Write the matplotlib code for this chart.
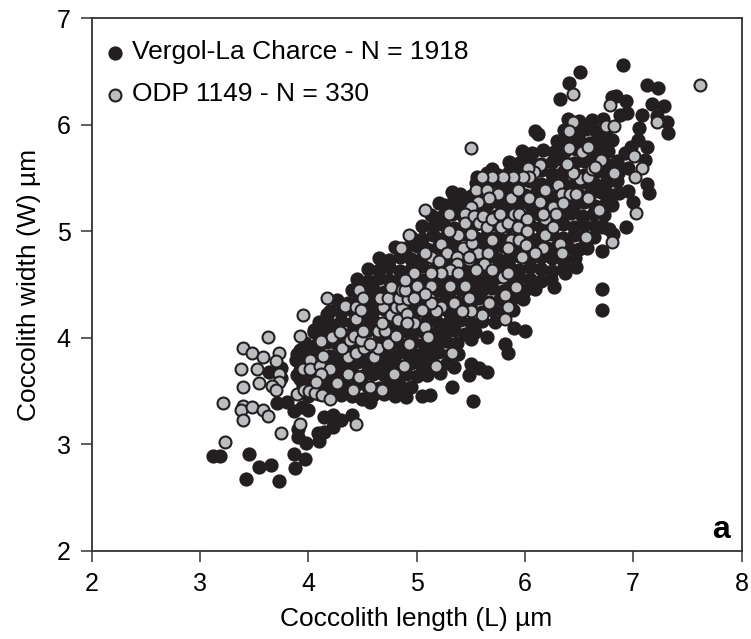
import matplotlib
matplotlib.use('Agg')
import matplotlib.pyplot as plt

plt.rcParams['font.family'] = ['Liberation Sans', 'DejaVu Sans']

# Values, one line per band of the cloud
vergol_length = [
    3.12, 3.19, 3.45, 3.55, 3.66, 3.43, 3.73, 3.87, 3.97, 3.88, 3.98, 3.91, 3.91, 4.10, 4.09, 4.15, 4.23, 4.30, 4.40,
    4.15, 4.23, 3.87, 4.00, 3.94, 3.71, 3.80, 4.57, 4.83, 4.05, 4.17, 3.92, 3.89, 3.64, 3.75, 3.75, 3.92, 3.92,
    6.91, 6.51, 6.41, 6.32, 7.13, 7.23, 7.17, 7.28, 6.84, 6.80, 6.93, 7.08, 6.94, 6.88, 7.31, 7.32, 7.22,
    7.05, 7.04, 7.13, 6.98, 6.92, 7.11, 6.95, 7.13, 7.15, 6.95, 7.00, 6.93, 6.78, 6.81, 6.71, 6.71, 6.71,
    6.47, 6.37, 6.27, 6.09, 6.12, 5.33, 5.35, 5.21, 5.56, 5.70, 6.00, 5.90, 5.82, 5.84, 5.50, 5.65,
    5.65, 5.58, 5.50, 5.48, 5.33, 5.35, 5.52,
    4.00, 4.10, 4.20, 4.30, 4.40, 4.50, 4.60, 4.70, 4.80, 4.90, 5.05, 5.12,
    3.95, 4.05, 4.15, 4.25, 4.35, 4.45, 4.55, 4.65, 4.75, 4.85, 4.95,
    3.90, 4.00, 4.10, 4.20, 4.30, 4.40, 4.50, 4.60, 4.70, 4.80, 4.90, 5.00, 5.10, 5.22,
    3.95, 4.05, 4.15, 4.25, 4.35, 4.45, 4.55, 4.65, 4.75, 4.85, 4.95, 5.05, 5.15, 5.28,
    3.90, 4.00, 4.10, 4.20, 4.30, 4.40, 4.50, 4.60, 4.70, 4.80, 4.90, 5.00, 5.10, 5.20, 5.30, 5.38,
    3.97, 4.07, 4.17, 4.27, 4.37, 4.47, 4.57, 4.67, 4.77, 4.87, 4.97, 5.07, 5.17, 5.27, 5.37,
    4.05, 4.15, 4.25, 4.35, 4.45, 4.55, 4.65, 4.75, 4.85, 4.95, 5.05, 5.15, 5.25, 5.35, 5.45, 5.54,
    4.10, 4.20, 4.30, 4.40, 4.50, 4.60, 4.70, 4.80, 4.90, 5.00, 5.10, 5.20, 5.30, 5.40, 5.50, 5.60, 5.72,
    4.20, 4.30, 4.40, 4.50, 4.60, 4.70, 4.80, 4.90, 5.00, 5.10, 5.20, 5.30, 5.40, 5.50, 5.60, 5.70, 5.80, 5.89,
    4.27, 4.37, 4.47, 4.57, 4.67, 4.77, 4.87, 4.97, 5.07, 5.17, 5.27, 5.37, 5.47, 5.57, 5.67, 5.77, 5.87, 5.98,
    4.40, 4.50, 4.60, 4.70, 4.80, 4.90, 5.00, 5.10, 5.20, 5.30, 5.40, 5.50, 5.60, 5.70, 5.80, 5.90, 6.00, 6.09,
    4.45, 4.55, 4.65, 4.75, 4.85, 4.95, 5.05, 5.15, 5.25, 5.35, 5.45, 5.55, 5.65, 5.75, 5.85, 5.95, 6.05, 6.15, 6.24,
    4.55, 4.65, 4.75, 4.85, 4.95, 5.05, 5.15, 5.25, 5.35, 5.45, 5.55, 5.65, 5.75, 5.85, 5.95, 6.05, 6.15, 6.25, 6.36,
    4.65, 4.75, 4.85, 4.95, 5.05, 5.15, 5.25, 5.35, 5.45, 5.55, 5.65, 5.75, 5.85, 5.95, 6.05, 6.15, 6.25, 6.35, 6.46,
    4.80, 4.90, 5.00, 5.10, 5.20, 5.30, 5.40, 5.50, 5.60, 5.70, 5.80, 5.90, 6.00, 6.10, 6.20, 6.30, 6.40, 6.50, 6.57,
    4.95, 5.05, 5.15, 5.25, 5.35, 5.45, 5.55, 5.65, 5.75, 5.85, 5.95, 6.05, 6.15, 6.25, 6.35, 6.45, 6.55, 6.64,
    5.05, 5.15, 5.25, 5.35, 5.45, 5.55, 5.65, 5.75, 5.85, 5.95, 6.05, 6.15, 6.25, 6.35, 6.45, 6.55, 6.65, 6.72,
    5.13, 5.23, 5.33, 5.43, 5.53, 5.63, 5.73, 5.83, 5.93, 6.03, 6.13, 6.23, 6.33, 6.43, 6.53, 6.63, 6.73,
    5.25, 5.35, 5.45, 5.55, 5.65, 5.75, 5.85, 5.95, 6.05, 6.15, 6.25, 6.35, 6.45, 6.55, 6.65, 6.75, 6.80,
    5.40, 5.50, 5.60, 5.70, 5.80, 5.90, 6.00, 6.10, 6.20, 6.30, 6.40, 6.50, 6.60, 6.70, 6.80, 6.87,
    5.55, 5.65, 5.75, 5.85, 5.95, 6.05, 6.15, 6.25, 6.35, 6.45, 6.55, 6.65, 6.75, 6.85,
    5.65, 5.75, 5.85, 5.95, 6.05, 6.15, 6.25, 6.35, 6.45, 6.55, 6.65, 6.75, 6.86,
    5.85, 5.95, 6.05, 6.15, 6.25, 6.35, 6.45, 6.55, 6.65, 6.75, 6.85,
    5.97, 6.07, 6.17, 6.27, 6.37, 6.47, 6.57, 6.67, 6.77,
    6.30, 6.40, 6.50, 6.60, 6.70, 6.80,
    6.36, 6.46, 6.56, 6.66, 6.75,
    6.40, 6.50, 6.62, 6.72,
]
vergol_width = [
    2.89, 2.89, 2.91, 2.79, 2.81, 2.68, 2.66, 2.91, 2.86, 2.78, 3.01, 3.07, 3.14, 3.03, 3.11, 3.12, 3.16, 3.23, 3.28,
    3.26, 3.28, 3.31, 3.32, 3.35, 3.39, 3.40, 3.40, 3.54, 4.07, 4.22, 3.89, 3.79, 3.68, 3.72, 3.62, 3.61, 3.70,
    6.56, 6.49, 6.39, 6.24, 6.37, 6.34, 6.19, 6.17, 6.27, 6.26, 6.22, 6.09, 6.11, 6.09, 6.02, 5.92, 6.08,
    5.97, 5.86, 5.79, 5.79, 5.73, 5.67, 5.59, 5.44, 5.36, 5.38, 5.27, 5.04, 5.02, 4.97, 4.81, 4.46, 4.26,
    4.66, 4.61, 4.48, 5.94, 5.91, 5.37, 5.30, 5.26, 5.51, 5.58, 4.06, 4.09, 3.94, 3.86, 3.99, 4.01,
    3.68, 3.72, 3.75, 3.65, 3.54, 3.73, 3.41,
    3.45, 3.47, 3.44, 3.46, 3.45, 3.43, 3.46, 3.47, 3.45, 3.44, 3.45, 3.46,
    3.55, 3.53, 3.56, 3.54, 3.55, 3.57, 3.54, 3.53, 3.56, 3.55, 3.54,
    3.65, 3.64, 3.66, 3.63, 3.65, 3.67, 3.64, 3.66, 3.65, 3.63, 3.66, 3.64, 3.65, 3.67,
    3.75, 3.73, 3.76, 3.74, 3.75, 3.77, 3.74, 3.76, 3.75, 3.73, 3.76, 3.74, 3.75, 3.76,
    3.85, 3.84, 3.86, 3.83, 3.85, 3.87, 3.84, 3.86, 3.85, 3.83, 3.86, 3.84, 3.85, 3.87, 3.84, 3.85,
    3.95, 3.93, 3.96, 3.94, 3.95, 3.97, 3.94, 3.96, 3.95, 3.93, 3.96, 3.94, 3.95, 3.97, 3.95,
    4.05, 4.04, 4.06, 4.03, 4.05, 4.07, 4.04, 4.06, 4.05, 4.03, 4.06, 4.04, 4.05, 4.07, 4.04, 4.05,
    4.15, 4.13, 4.16, 4.14, 4.15, 4.17, 4.14, 4.16, 4.15, 4.13, 4.16, 4.14, 4.15, 4.17, 4.14, 4.16, 4.15,
    4.25, 4.24, 4.26, 4.23, 4.25, 4.27, 4.24, 4.26, 4.25, 4.23, 4.26, 4.24, 4.25, 4.27, 4.24, 4.26, 4.25, 4.26,
    4.35, 4.33, 4.36, 4.34, 4.35, 4.37, 4.34, 4.36, 4.35, 4.33, 4.36, 4.34, 4.35, 4.37, 4.34, 4.36, 4.35, 4.36,
    4.45, 4.44, 4.46, 4.43, 4.45, 4.47, 4.44, 4.46, 4.45, 4.43, 4.46, 4.44, 4.45, 4.47, 4.44, 4.46, 4.45, 4.46,
    4.55, 4.53, 4.56, 4.54, 4.55, 4.57, 4.54, 4.56, 4.55, 4.53, 4.56, 4.54, 4.55, 4.57, 4.54, 4.56, 4.55, 4.53, 4.55,
    4.65, 4.64, 4.66, 4.63, 4.65, 4.67, 4.64, 4.66, 4.65, 4.63, 4.66, 4.64, 4.65, 4.67, 4.64, 4.66, 4.65, 4.63, 4.66,
    4.75, 4.73, 4.76, 4.74, 4.75, 4.77, 4.74, 4.76, 4.75, 4.73, 4.76, 4.74, 4.75, 4.77, 4.74, 4.76, 4.75, 4.73, 4.75,
    4.85, 4.84, 4.86, 4.83, 4.85, 4.87, 4.84, 4.86, 4.85, 4.83, 4.86, 4.84, 4.85, 4.87, 4.84, 4.86, 4.85, 4.83, 4.84,
    4.95, 4.93, 4.96, 4.94, 4.95, 4.97, 4.94, 4.96, 4.95, 4.93, 4.96, 4.94, 4.95, 4.97, 4.94, 4.96, 4.95, 4.95,
    5.05, 5.04, 5.06, 5.03, 5.05, 5.07, 5.04, 5.06, 5.05, 5.03, 5.06, 5.04, 5.05, 5.07, 5.04, 5.06, 5.05, 5.04,
    5.15, 5.13, 5.16, 5.14, 5.15, 5.17, 5.14, 5.16, 5.15, 5.13, 5.16, 5.14, 5.15, 5.17, 5.14, 5.16, 5.15,
    5.25, 5.24, 5.26, 5.23, 5.25, 5.27, 5.24, 5.26, 5.25, 5.23, 5.26, 5.24, 5.25, 5.27, 5.24, 5.26, 5.25,
    5.35, 5.33, 5.36, 5.34, 5.35, 5.37, 5.34, 5.36, 5.35, 5.33, 5.36, 5.34, 5.35, 5.37, 5.34, 5.36,
    5.45, 5.44, 5.46, 5.43, 5.45, 5.47, 5.44, 5.46, 5.45, 5.43, 5.46, 5.44, 5.45, 5.47,
    5.55, 5.53, 5.56, 5.54, 5.55, 5.57, 5.54, 5.56, 5.55, 5.53, 5.56, 5.54, 5.55,
    5.65, 5.64, 5.66, 5.63, 5.65, 5.67, 5.64, 5.66, 5.65, 5.63, 5.66,
    5.75, 5.73, 5.76, 5.74, 5.75, 5.77, 5.74, 5.76, 5.75,
    5.85, 5.84, 5.86, 5.83, 5.85, 5.86,
    5.95, 5.93, 5.96, 5.94, 5.95,
    6.05, 6.03, 6.04, 6.05,
]

odp_length = [
    4.17, 3.95, 3.63, 3.40, 3.48, 3.58, 3.73, 3.70, 3.92, 3.38, 3.53, 3.73, 3.73, 3.55, 3.40, 3.67, 3.70, 3.21,
    3.40, 3.38, 3.48, 3.58, 3.63, 3.40, 3.75, 3.23, 3.92, 4.44, 3.90, 3.96, 4.01, 4.06, 4.13, 4.20, 3.95, 4.02,
    4.02, 4.11, 4.14, 4.20, 4.12, 4.07, 4.27, 4.37, 4.47, 4.41, 4.57, 4.68, 4.79, 4.89, 4.61, 4.37, 4.44, 4.52,
    4.64, 4.31, 4.12, 4.22, 4.29, 4.39, 4.42, 4.49, 4.51, 4.57, 4.64, 4.71, 4.74, 4.81, 4.92, 4.44, 4.34, 4.44,
    4.49, 4.69, 4.68, 4.76, 4.81, 4.87, 4.83, 4.91, 4.47, 4.51, 4.66, 4.74, 4.84, 4.76, 4.87, 4.92,
    7.62, 6.44, 6.79, 7.22, 6.75, 6.82, 6.44, 6.41, 5.50, 6.41, 6.53, 6.58, 6.70, 7.01, 7.08, 7.02, 6.82, 7.03,
    6.80, 6.56, 6.68, 6.58, 6.51, 6.58, 6.44, 6.39, 6.62, 6.65, 6.14, 6.08, 6.03, 6.04, 5.98, 5.89, 5.80, 5.70,
    5.60, 5.55, 5.65, 5.75, 5.67, 5.57, 5.50, 5.08, 5.30, 5.45, 5.45, 5.53, 5.58, 5.61, 5.65, 5.70, 5.77, 5.78,
    5.84, 5.87, 5.94, 6.04, 6.19, 6.14, 6.31, 6.34, 6.42, 6.47, 6.26, 6.35, 6.29, 6.19, 6.17, 5.90, 5.95, 6.02,
    5.94, 6.02, 5.87, 5.95, 6.01, 6.19, 6.26, 6.32, 6.34, 6.17, 6.09, 5.97, 5.84, 5.70, 5.57, 5.66, 5.48, 5.43,
    5.51, 5.50, 5.38, 5.30, 5.23, 5.28, 5.13, 5.08, 5.21, 5.37, 5.37, 5.48, 5.62, 5.55, 5.70, 5.80, 5.84, 5.92,
    5.45, 5.31, 5.31, 5.23, 5.13, 5.13, 4.98, 5.00, 4.86, 4.93, 5.38, 5.35, 5.48, 5.67, 5.82, 5.84, 5.82, 5.60,
    5.50, 5.42, 5.23, 5.18, 5.13, 5.08, 4.98, 5.05, 4.91, 4.98, 4.91, 5.08, 5.11, 4.93, 5.33, 5.18, 4.88, 4.89,
    4.89,
]
odp_width = [
    4.37, 4.21, 4.01, 3.90, 3.86, 3.82, 3.86, 3.78, 4.02, 3.71, 3.71, 3.66, 3.59, 3.58, 3.54, 3.55, 3.51, 3.39,
    3.36, 3.32, 3.35, 3.32, 3.27, 3.23, 3.11, 3.02, 3.19, 3.19, 3.47, 3.51, 3.50, 3.48, 3.46, 3.43, 3.71, 3.79,
    3.71, 3.74, 3.83, 3.71, 3.66, 3.59, 3.58, 3.66, 3.63, 3.51, 3.54, 3.51, 3.66, 3.74, 3.82, 3.82, 3.86, 3.90,
    3.90, 3.90, 3.97, 4.01, 4.05, 3.98, 4.02, 3.98, 4.06, 3.94, 4.06, 4.06, 3.94, 4.02, 3.94, 4.18, 4.30, 4.29,
    4.26, 4.29, 4.14, 4.21, 4.29, 4.29, 4.17, 4.14, 4.45, 4.37, 4.37, 4.37, 4.37, 4.48, 4.45, 4.36,
    6.37, 6.29, 6.18, 6.02, 5.99, 5.99, 6.02, 5.94, 5.78, 5.78, 5.74, 5.79, 5.67, 5.71, 5.59, 5.51, 5.55, 5.17,
    4.90, 4.95, 5.20, 5.31, 5.49, 5.51, 5.55, 5.63, 5.58, 5.60, 5.62, 5.56, 5.59, 5.51, 5.51, 5.51, 5.51, 5.51,
    5.51, 5.39, 5.39, 5.35, 5.31, 5.27, 5.23, 5.20, 5.16, 5.16, 5.08, 5.14, 5.08, 5.14, 5.04, 5.11, 5.16, 5.04,
    5.08, 5.31, 5.39, 5.31, 5.39, 5.27, 5.43, 5.35, 5.35, 5.35, 5.23, 5.26, 5.16, 5.11, 5.16, 5.16, 5.16, 5.11,
    5.04, 5.00, 4.92, 4.92, 4.87, 4.96, 5.04, 4.88, 4.80, 4.84, 4.80, 4.76, 4.84, 4.92, 4.80, 4.80, 4.73, 4.84,
    4.89, 4.97, 4.96, 5.00, 4.88, 4.80, 4.76, 4.80, 4.72, 4.76, 4.69, 4.76, 4.69, 4.64, 4.64, 4.57, 4.61, 4.48,
    4.49, 4.49, 4.64, 4.61, 4.61, 4.49, 4.61, 4.49, 4.84, 4.96, 4.61, 4.33, 4.37, 4.33, 4.40, 4.29, 4.18, 4.21,
    4.25, 4.25, 4.29, 4.25, 4.33, 4.41, 4.37, 4.26, 4.22, 4.14, 4.14, 4.10, 4.01, 3.94, 3.86, 3.74, 3.74, 4.45,
    4.54,
]

x_ticks = [2, 3, 4, 5, 6, 7, 8]
y_ticks = [2, 3, 4, 5, 6, 7]

fig = plt.figure(figsize=(7.51, 6.39), dpi=100)
ax = fig.add_axes([91.5 / 751, 1 - 551 / 639, 650 / 751, 533 / 639])

ax.scatter(vergol_length, vergol_width, s=82, c='#231f20', edgecolors='#231f20', linewidths=1.2,
           label='Vergol-La Charce - N = 1918', zorder=3, clip_on=False)
ax.scatter(odp_length, odp_width, s=74, c='#bbbdc0', edgecolors='#231f20', linewidths=1.5,
           label='ODP 1149 - N = 330', zorder=4, clip_on=False)

ax.set_xlim(2, 8)
ax.set_ylim(2, 7)
ax.set_xticks(x_ticks)
ax.set_yticks(y_ticks)
ax.tick_params(axis='both', labelsize=18, length=8, width=1.1, direction='out', color='#333333')
ax.tick_params(axis='x', pad=7)
ax.tick_params(axis='y', pad=7)
for spine in ax.spines.values():
    spine.set_linewidth(1.3)
    spine.set_color('#333333')

ax.set_xlabel('Coccolith length (L) µm', fontsize=19, labelpad=8)
ax.set_ylabel('Coccolith width (W) µm', fontsize=19, labelpad=11)

ax.legend(loc='upper left', frameon=False, fontsize=19, scatterpoints=1, handlelength=1, handletextpad=0.14,
          labelspacing=0.68, borderaxespad=0, borderpad=0, bbox_to_anchor=(10 / 650, 1 - 22.5 / 533))
ax.text(0.9815, 0.012, 'a', transform=ax.transAxes, ha='right', va='bottom', fontsize=23, fontweight='bold')

fig.savefig('out.png', dpi=100)
